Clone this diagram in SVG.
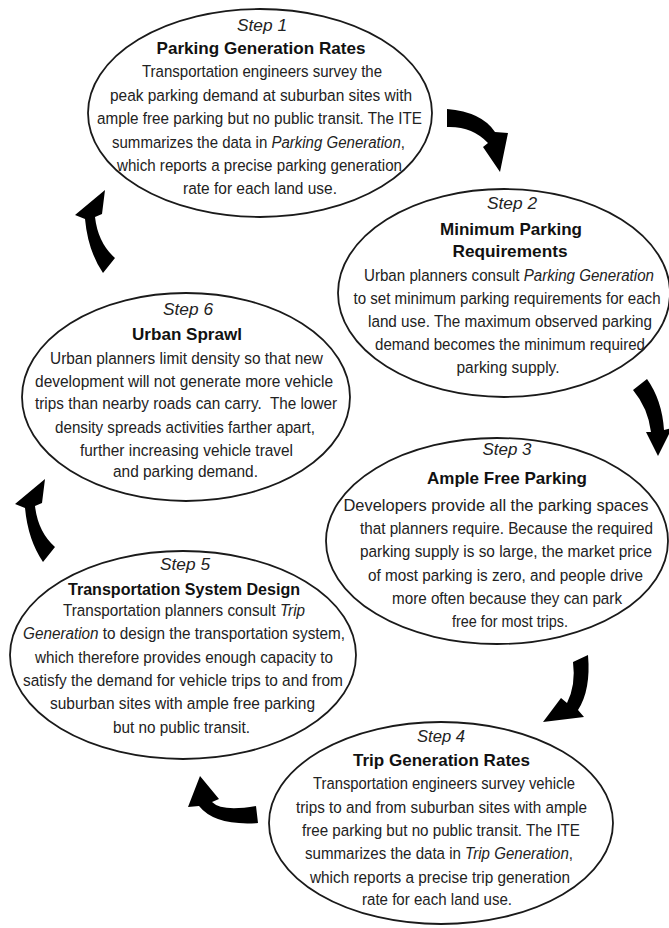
<svg xmlns="http://www.w3.org/2000/svg" width="669" height="928" viewBox="0 0 669 928">
<style>
.bg{fill:#fff}
.el{fill:#fff;stroke:#1a1a1a;stroke-width:1.8}
.st{font-family:"Liberation Sans",Arial,sans-serif;font-style:italic;font-size:17px;fill:#222;text-anchor:middle}
.ti{font-family:"Liberation Sans",Arial,sans-serif;font-weight:bold;font-size:16.5px;fill:#111;text-anchor:middle}
.bd{font-family:"Liberation Sans",Arial,sans-serif;font-size:17px;fill:#222;text-anchor:middle}
.it{font-style:italic}
.ar{fill:#000}
</style>
<rect class="bg" x="0" y="0" width="669" height="928"/>
<g id="connectors">
<path class="ar" d="M447,109 Q482,112 495,132 L508,133 L500,172 L483,147 L488,143 Q472,126 447,127 Z"/>
<path class="ar" d="M633,390 L647,379 Q662,400 664,430 L672,428 L658,456 L646,432 L651,432 Q648,408 633,390 Z"/>
<path class="ar" d="M573,662 L588,655 Q591,690 578,710 L584,717 L543,722 L561,698 L567,703 Q576,685 573,662 Z"/>
<path class="ar" d="M188,807 L200,776 L219,799 L212,802 Q222,812 256,806 L258,823 Q215,826 199,806 Z"/>
<path class="ar" d="M43,562 Q28,540 25,508 L15,504 L45,479 L42,503 L35,506 Q38,532 55,547 Z"/>
<path class="ar" d="M103,273 Q88,251 85,219 L75,215 L105,190 L102,214 L95,217 Q98,243 115,258 Z"/>
</g>
<g id="step1">
<ellipse class="el" cx="260" cy="113" rx="172" ry="104"/>
<text class="st" x="262" y="31" textLength="50" lengthAdjust="spacingAndGlyphs">Step 1</text>
<text class="ti" x="261" y="54" textLength="209" lengthAdjust="spacingAndGlyphs">Parking Generation Rates</text>
<text class="bd" transform="translate(262,77) scale(0.83,1)" textLength="289.2" lengthAdjust="spacingAndGlyphs">Transportation engineers survey the</text>
<text class="bd" transform="translate(261,101) scale(0.83,1)" textLength="363.9" lengthAdjust="spacingAndGlyphs">peak parking demand at suburban sites with</text>
<text class="bd" transform="translate(259.5,124) scale(0.83,1)" textLength="391.6" lengthAdjust="spacingAndGlyphs">ample free parking but no public transit. The ITE</text>
<text class="bd" transform="translate(258.5,148) scale(0.83,1)" textLength="353" lengthAdjust="spacingAndGlyphs">summarizes the data in <tspan class="it">Parking Generation</tspan>,</text>
<text class="bd" transform="translate(259.5,171) scale(0.83,1)" textLength="343.4" lengthAdjust="spacingAndGlyphs">which reports a precise parking generation</text>
<text class="bd" transform="translate(260,194) scale(0.83,1)" textLength="185.5" lengthAdjust="spacingAndGlyphs">rate for each land use.</text>
</g>
<g id="step2">
<ellipse class="el" cx="504" cy="293" rx="166" ry="104"/>
<text class="st" x="512" y="209" textLength="50" lengthAdjust="spacingAndGlyphs">Step 2</text>
<text class="ti" x="511" y="235" textLength="142" lengthAdjust="spacingAndGlyphs">Minimum Parking</text>
<text class="ti" x="510" y="257" textLength="115" lengthAdjust="spacingAndGlyphs">Requirements</text>
<text class="bd" transform="translate(509,281) scale(0.83,1)" textLength="349.4" lengthAdjust="spacingAndGlyphs">Urban planners consult <tspan class="it">Parking Generation</tspan></text>
<text class="bd" transform="translate(507,304) scale(0.83,1)" textLength="370" lengthAdjust="spacingAndGlyphs">to set minimum parking requirements for each</text>
<text class="bd" transform="translate(510,327) scale(0.83,1)" textLength="342.2" lengthAdjust="spacingAndGlyphs">land use. The maximum observed parking</text>
<text class="bd" transform="translate(510,350) scale(0.83,1)" textLength="325.3" lengthAdjust="spacingAndGlyphs">demand becomes the minimum required</text>
<text class="bd" transform="translate(508,373) scale(0.83,1)" textLength="124.1" lengthAdjust="spacingAndGlyphs">parking supply.</text>
</g>
<g id="step3">
<ellipse class="el" cx="497" cy="541" rx="171" ry="103"/>
<text class="st" x="507" y="455" textLength="49" lengthAdjust="spacingAndGlyphs">Step 3</text>
<text class="ti" x="507" y="484" textLength="160" lengthAdjust="spacingAndGlyphs">Ample Free Parking</text>
<text class="bd" transform="translate(496,511) scale(0.83,1)" textLength="367.5" lengthAdjust="spacingAndGlyphs">Developers provide all the parking spaces</text>
<text class="bd" transform="translate(506.5,534) scale(0.83,1)" textLength="353" lengthAdjust="spacingAndGlyphs">that planners require. Because the required</text>
<text class="bd" transform="translate(506,557) scale(0.83,1)" textLength="351.8" lengthAdjust="spacingAndGlyphs">parking supply is so large, the market price</text>
<text class="bd" transform="translate(505.5,581) scale(0.83,1)" textLength="331.3" lengthAdjust="spacingAndGlyphs">of most parking is zero, and people drive</text>
<text class="bd" transform="translate(507,604) scale(0.83,1)" textLength="277.1" lengthAdjust="spacingAndGlyphs">more often because they can park</text>
<text class="bd" transform="translate(510,627) scale(0.83,1)" textLength="139.8" lengthAdjust="spacingAndGlyphs">free for most trips.</text>
</g>
<g id="step4">
<ellipse class="el" cx="441" cy="823" rx="172" ry="101"/>
<text class="st" x="441" y="742" textLength="48" lengthAdjust="spacingAndGlyphs">Step 4</text>
<text class="ti" x="441.5" y="766" textLength="177" lengthAdjust="spacingAndGlyphs">Trip Generation Rates</text>
<text class="bd" transform="translate(444,789) scale(0.83,1)" textLength="315.7" lengthAdjust="spacingAndGlyphs">Transportation engineers survey vehicle</text>
<text class="bd" transform="translate(441.5,813) scale(0.83,1)" textLength="350.6" lengthAdjust="spacingAndGlyphs">trips to and from suburban sites with ample</text>
<text class="bd" transform="translate(441,836) scale(0.83,1)" textLength="334.9" lengthAdjust="spacingAndGlyphs">free parking but no public transit. The ITE</text>
<text class="bd" transform="translate(439,859) scale(0.83,1)" textLength="322.9" lengthAdjust="spacingAndGlyphs">summarizes the data in <tspan class="it">Trip Generation</tspan>,</text>
<text class="bd" transform="translate(440,883) scale(0.83,1)" textLength="313.3" lengthAdjust="spacingAndGlyphs">which reports a precise trip generation</text>
<text class="bd" transform="translate(437,905) scale(0.83,1)" textLength="180.7" lengthAdjust="spacingAndGlyphs">rate for each land use.</text>
</g>
<g id="step5">
<ellipse class="el" cx="183" cy="655" rx="173" ry="104"/>
<text class="st" x="185" y="570" textLength="50" lengthAdjust="spacingAndGlyphs">Step 5</text>
<text class="ti" x="184" y="595" textLength="232" lengthAdjust="spacingAndGlyphs">Transportation System Design</text>
<text class="bd" transform="translate(184,616) scale(0.83,1)" textLength="291.6" lengthAdjust="spacingAndGlyphs">Transportation planners consult <tspan class="it">Trip</tspan></text>
<text class="bd" transform="translate(184,639) scale(0.83,1)" textLength="388" lengthAdjust="spacingAndGlyphs"><tspan class="it">Generation</tspan> to design the transportation system,</text>
<text class="bd" transform="translate(184,663) scale(0.83,1)" textLength="359" lengthAdjust="spacingAndGlyphs">which therefore provides enough capacity to</text>
<text class="bd" transform="translate(183,686) scale(0.83,1)" textLength="385.5" lengthAdjust="spacingAndGlyphs">satisfy the demand for vehicle trips to and from</text>
<text class="bd" transform="translate(182.5,709) scale(0.83,1)" textLength="319.3" lengthAdjust="spacingAndGlyphs">suburban sites with ample free parking</text>
<text class="bd" transform="translate(181.5,733) scale(0.83,1)" textLength="165.1" lengthAdjust="spacingAndGlyphs">but no public transit.</text>
</g>
<g id="step6">
<ellipse class="el" cx="186" cy="397" rx="164" ry="104"/>
<text class="st" x="188" y="315" textLength="50" lengthAdjust="spacingAndGlyphs">Step 6</text>
<text class="ti" x="187" y="340" textLength="110" lengthAdjust="spacingAndGlyphs">Urban Sprawl</text>
<text class="bd" transform="translate(186.5,364) scale(0.83,1)" textLength="328.9" lengthAdjust="spacingAndGlyphs">Urban planners limit density so that new</text>
<text class="bd" transform="translate(184,387) scale(0.83,1)" textLength="359" lengthAdjust="spacingAndGlyphs">development will not generate more vehicle</text>
<text class="bd" transform="translate(186,409) scale(0.83,1)" textLength="363.9" lengthAdjust="spacingAndGlyphs" xml:space="preserve">trips than nearby roads can carry.  The lower</text>
<text class="bd" transform="translate(185,433) scale(0.83,1)" textLength="313.3" lengthAdjust="spacingAndGlyphs">density spreads activities farther apart,</text>
<text class="bd" transform="translate(186.5,456) scale(0.83,1)" textLength="256.6" lengthAdjust="spacingAndGlyphs">further increasing vehicle travel</text>
<text class="bd" transform="translate(185.5,477) scale(0.83,1)" textLength="174.7" lengthAdjust="spacingAndGlyphs">and parking demand.</text>
</g>
</svg>
